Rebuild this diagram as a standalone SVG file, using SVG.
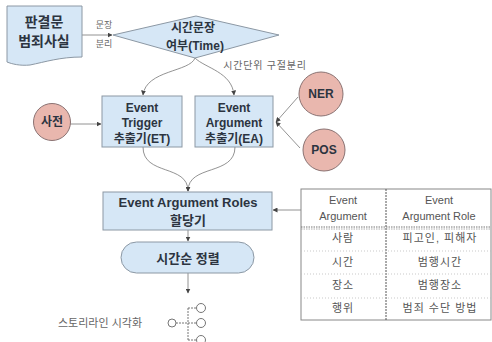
<svg xmlns="http://www.w3.org/2000/svg" width="492" height="342" viewBox="0 0 492 342">
<style>
.box{fill:#d6e7f6;stroke:#8c98a4;stroke-width:1}
.circ{fill:#e9b7ae;stroke:#8a7272;stroke-width:1}
.bt{font-family:"Liberation Sans","Noto Sans CJK KR",sans-serif;font-weight:bold;fill:#2c3440;text-anchor:middle}
.lt{font-family:"Liberation Sans","Noto Sans CJK KR",sans-serif;fill:#666;text-anchor:middle}
.tt{font-family:"Liberation Sans","Noto Sans CJK KR",sans-serif;fill:#555;text-anchor:middle;font-size:11px}
.con{fill:none;stroke:#777;stroke-width:0.8}
</style>
<defs>
<marker id="ah" viewBox="0 0 10 10" refX="9" refY="5" markerWidth="5" markerHeight="5" markerUnits="userSpaceOnUse" orient="auto">
<path d="M0,0 L10,5 L0,10 z" fill="#444"/>
</marker>
</defs>
<rect width="492" height="342" fill="#ffffff"/>

<g id="connectors">
<path class="con" d="M82,35 L112,35" marker-end="url(#ah)"/>
<path class="con" d="M195,58 C190,72 146,70 143,95" marker-end="url(#ah)"/>
<path class="con" d="M195,58 C205,68 232,72 234,95" marker-end="url(#ah)"/>
<path class="con" d="M70,124 L101,124" marker-end="url(#ah)"/>
<path class="con" d="M298,97 L276,122" marker-end="url(#ah)"/>
<path class="con" d="M300,148 L276,122" marker-end="url(#ah)"/>
<path class="con" d="M143,147 C143,176 188,164 188,191" marker-end="url(#ah)"/>
<path class="con" d="M235,147 C235,176 188,164 188,191" marker-end="url(#ah)"/>
<path class="con" d="M301,210 L273,210" marker-end="url(#ah)"/>
<path class="con" d="M188,230 L188,241" marker-end="url(#ah)"/>
<path class="con" d="M188,273 L188,293" marker-end="url(#ah)"/>
<text class="lt" x="104" y="28" font-size="9">문장</text>
<text class="lt" x="104" y="47" font-size="9">분리</text>
<text class="lt" x="265" y="69" font-size="10" letter-spacing="0.8">시간단위 구절분리</text>
</g>

<g id="doc">
<path class="box" d="M7,6 L82,6 L82,57 C60,57 45,62 30,65 C20,66 12,64 7,62 Z"/>
<text class="bt" x="44" y="27" font-size="14">판결문</text>
<text class="bt" x="44" y="46" font-size="14">범죄사실</text>
</g>

<g id="time">
<polygon class="box" points="113,35 196,16 279,35 195,58"/>
<text class="bt" x="193" y="32" font-size="12">시간문장</text>
<text class="bt" x="195" y="50" font-size="12">여부(Time)</text>
</g>

<g id="dict">
<circle class="circ" cx="52" cy="122" r="18.5"/>
<text class="bt" x="52" y="126" font-size="12">사전</text>
</g>

<g id="et">
<rect class="box" x="102" y="96" width="80" height="51"/>
<text class="bt" x="142" y="112" font-size="12">Event</text>
<text class="bt" x="142" y="127" font-size="12">Trigger</text>
<text class="bt" x="142" y="143" font-size="12">추출기(ET)</text>
</g>

<g id="ea">
<rect class="box" x="195" y="96" width="78" height="51"/>
<text class="bt" x="234" y="112" font-size="12">Event</text>
<text class="bt" x="234" y="127" font-size="12">Argument</text>
<text class="bt" x="234" y="143" font-size="12">추출기(EA)</text>
</g>

<g id="ner">
<circle class="circ" cx="321" cy="94" r="22"/>
<text class="bt" x="321" y="98" font-size="12">NER</text>
</g>

<g id="pos">
<circle class="circ" cx="324" cy="150" r="21"/>
<text class="bt" x="324" y="154" font-size="12">POS</text>
</g>

<g id="ear">
<rect class="box" x="103" y="192" width="169" height="38"/>
<text class="bt" x="188" y="207" font-size="13">Event Argument Roles</text>
<text class="bt" x="188" y="225" font-size="13">할당기</text>
</g>

<g id="sort">
<rect class="box" x="121" y="242" width="133" height="31" rx="15.5" ry="15.5"/>
<text class="bt" x="188" y="263" font-size="13">시간순 정렬</text>
</g>

<g id="story">
<text class="lt" x="100" y="327" font-size="11" fill="#555">스토리라인 시각화</text>
<g fill="none" stroke="#666" stroke-width="0.9">
<circle cx="172" cy="323" r="4"/>
<path d="M176,323 L196.5,323 M188,308 L188,340 M188,308 L196.5,308 M188,340 L196.5,340" stroke-dasharray="2,1"/>
<circle cx="201" cy="308" r="4.5"/>
<circle cx="201" cy="323" r="4.5"/>
<circle cx="201" cy="340" r="4.5"/>
</g>
</g>

<g id="table">
<rect x="301" y="189" width="190" height="131" fill="#fff" stroke="#888" stroke-width="1"/>
<line x1="386" y1="189" x2="386" y2="320" stroke="#555" stroke-width="1" stroke-dasharray="2,1"/>
<line x1="301" y1="227" x2="491" y2="227" stroke="#777" stroke-width="1" stroke-dasharray="1.5,1"/>
<line x1="301" y1="229" x2="491" y2="229" stroke="#999" stroke-width="0.8" stroke-dasharray="1.5,1"/>
<line x1="301" y1="251" x2="491" y2="251" stroke="#bbb" stroke-width="0.8" stroke-dasharray="1,2"/>
<line x1="301" y1="274" x2="491" y2="274" stroke="#bbb" stroke-width="0.8" stroke-dasharray="1,2"/>
<line x1="301" y1="298" x2="491" y2="298" stroke="#bbb" stroke-width="0.8" stroke-dasharray="1,2"/>
<text class="tt" x="343" y="204" font-size="12" fill="#444">Event</text>
<text class="tt" x="343" y="220" font-size="12" fill="#444">Argument</text>
<text class="tt" x="439" y="204" font-size="12" fill="#444">Event</text>
<text class="tt" x="439" y="220" font-size="12" fill="#444">Argument Role</text>
<text class="tt" x="343" y="242" letter-spacing="1">사람</text>
<text class="tt" x="440" y="242" letter-spacing="1">피고인, 피해자</text>
<text class="tt" x="343" y="266" letter-spacing="1">시간</text>
<text class="tt" x="440" y="266" letter-spacing="1">범행시간</text>
<text class="tt" x="343" y="289" letter-spacing="1">장소</text>
<text class="tt" x="440" y="289" letter-spacing="1">범행장소</text>
<text class="tt" x="343" y="312" letter-spacing="1">행위</text>
<text class="tt" x="440" y="312" letter-spacing="1">범죄 수단 방법</text>
</g>
</svg>
